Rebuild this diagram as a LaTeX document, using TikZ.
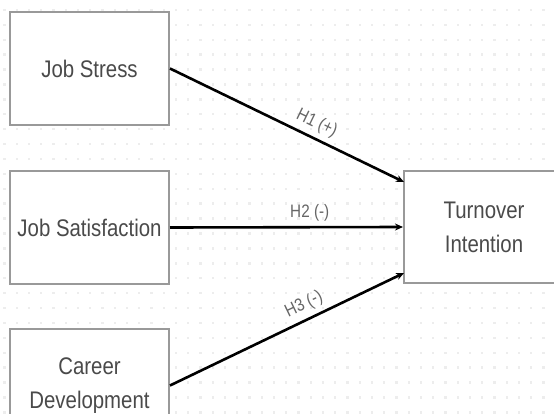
\documentclass[tikz,border=0pt]{standalone}
\usepackage{fontspec}
\setmainfont{Liberation Sans}[FakeStretch=0.85]
\usetikzlibrary{arrows.meta}
\definecolor{boxline}{HTML}{999999}
\definecolor{boxtext}{HTML}{4A4A4A}
\definecolor{labtext}{HTML}{666666}
\definecolor{griddot}{HTML}{EDEDED}
\tikzset{
  varbox/.style={draw=boxline, line width=2pt, fill=white, minimum width=159pt, minimum height=113pt,
    text=boxtext, font=\fontsize{24}{34}\selectfont, align=center, inner sep=0pt},
  patharrow/.style={line width=2.6pt, -{Stealth[length=8pt,width=7pt]}},
  hyplabel/.style={text=labtext, font=\fontsize{18}{22}\selectfont, sloped, above=3pt, pos=0.6, inner sep=2pt}
}
\begin{document}
\begin{tikzpicture}[x=1pt,y=-1pt]
\useasboundingbox (0,0) rectangle (554,414);
\fill[white] (0,0) rectangle (554,414);
% dot grid
\foreach \i in {0,...,45} {
  \foreach \j in {0,...,27} {
    \fill[griddot] ({4.5+12.25*\i-1.2},{10+14.9*\j-1.2}) rectangle ++(2.4,2.4);
  }
}
\node[varbox] (js) at (89.5,68.5) {Job Stress};
\node[varbox] (jsat) at (89.5,227.5) {Job Satisfaction};
\node[varbox] (cd) at (89.5,385.5) {Career\\Development};
\node[varbox, minimum width=160pt, minimum height=112pt] (ti) at (484,227) {Turnover\\Intention};
\coordinate (t1) at (404,182);
\coordinate (t3) at (404,273);
\draw[patharrow] (js.east) -- (t1) node[hyplabel] {H1 (+)};
\draw[patharrow] (jsat.east) -- (ti.west) node[hyplabel] {H2 (-)};
\draw[patharrow] (cd.east) -- (t3) node[hyplabel] {H3 (-)};
\end{tikzpicture}
\end{document}
